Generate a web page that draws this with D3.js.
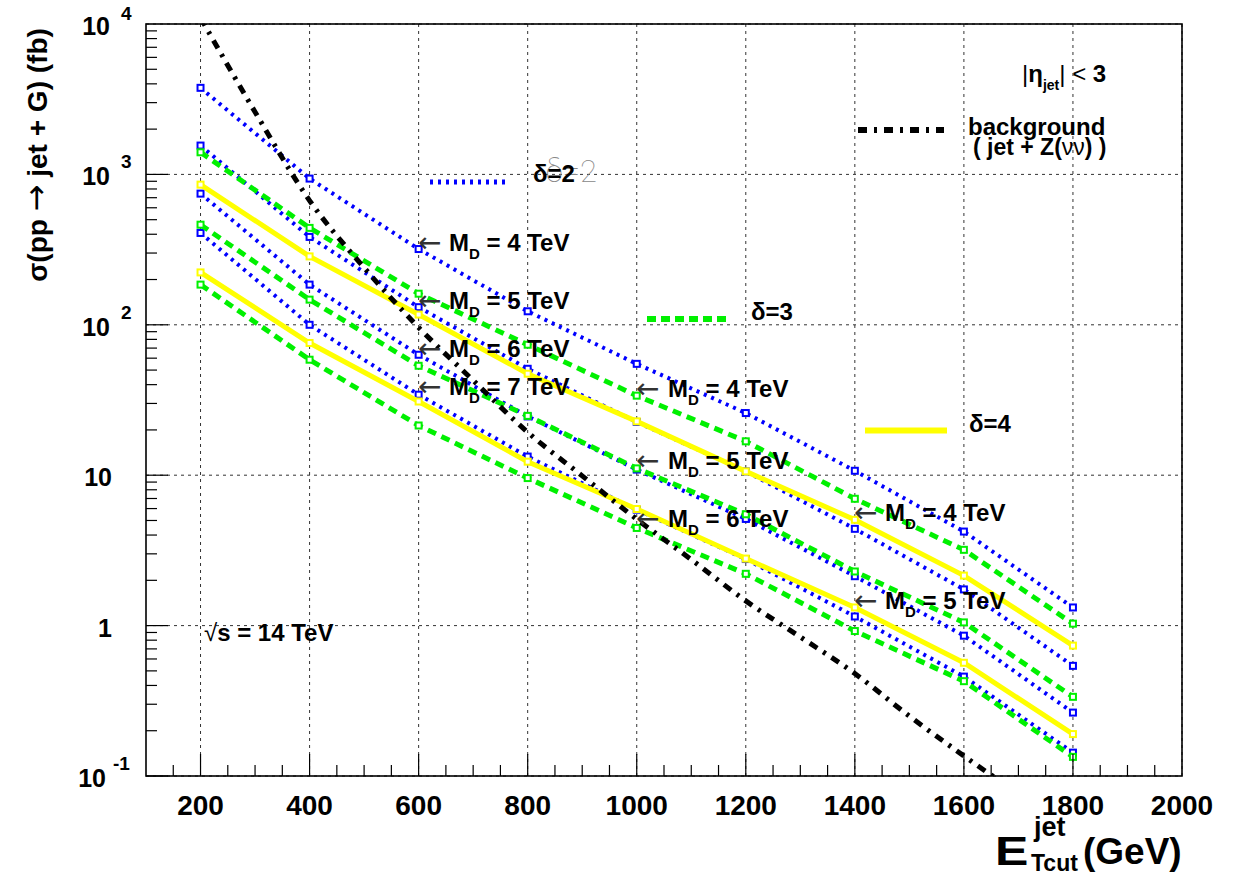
<!DOCTYPE html>
<html><head><meta charset="utf-8">
<script src="https://cdn.jsdelivr.net/npm/d3@7"></script>
<style>
body{margin:0;background:#fff;}
svg{display:block;font-family:"Liberation Sans",Arial,Helvetica,sans-serif;}
</style></head>
<body><svg id="c" width="1235" height="878"></svg>
<script>
// ---------------- data ----------------
const energies = [200, 400, 600, 800, 1000, 1200, 1400, 1600, 1800];
const delta2_MD4 = [3763, 938, 319, 123, 55, 25.9, 10.7, 4.22, 1.32];
const delta2_MD5 = [1555, 384, 131, 51, 22.6, 10.6, 4.4, 1.74, 0.54];
const delta2_MD6 = [745, 185, 63.2, 24.6, 10.9, 5.12, 2.13, 0.857, 0.264];
const delta2_MD7 = [408, 100, 34.3, 13.3, 5.9, 2.77, 1.15, 0.458, 0.143];
const delta3_MD4 = [1403, 441, 161, 73.7, 33.8, 16.8, 6.97, 3.19, 1.03];
const delta3_MD5 = [463, 147, 53.4, 24.8, 11.1, 5.5, 2.29, 1.05, 0.336];
const delta3_MD6 = [185, 58.6, 21.4, 9.57, 4.46, 2.21, 0.92, 0.427, 0.134];
const delta4_MD4 = [855, 285, 117, 47.3, 22.8, 10.6, 5.05, 2.15, 0.736];
const delta4_MD5 = [223, 75.7, 30.9, 12.3, 5.96, 2.79, 1.32, 0.566, 0.19];
const bgEnergies = [200, 300, 400, 500, 600, 700, 800, 900, 1000, 1100, 1200, 1300, 1400, 1500, 1600, 1700];
const background = [11000, 2600, 670, 240, 96, 42.7, 19.3, 9.9, 5.1, 2.75, 1.46, 0.84, 0.48, 0.25, 0.136, 0.076];
const xTickLabels = [200, 400, 600, 800, 1000, 1200, 1400, 1600, 1800, 2000];
const yDecades = [0.1, 1, 10, 100, 1000, 10000];
const yDecadeLabels = [["10", "-1"], ["1", ""], ["10", ""], ["10", "2"], ["10", "3"], ["10", "4"]];

// ---------------- layout ----------------
const svg = d3.select("#c");
const L = 146, R = 1182, T = 24, B = 776;
const x = d3.scaleLinear().domain([100, 2000]).range([L, R]);
const y = d3.scaleLog().domain([0.1, 10000]).range([B, T]);
const ARROWFONT = '"DejaVu Sans",sans-serif';

// grid
const gGrid = svg.append("g");
xTickLabels.forEach(v => {
  gGrid.append("line").attr("x1", x(v)).attr("x2", x(v)).attr("y1", T).attr("y2", B)
    .attr("stroke", "#333").attr("stroke-width", 1).attr("stroke-dasharray", "3,4");
});
yDecades.forEach(v => {
  gGrid.append("line").attr("x1", L).attr("x2", R).attr("y1", y(v)).attr("y2", y(v))
    .attr("stroke", "#333").attr("stroke-width", 1).attr("stroke-dasharray", "3,4");
});

// clip
svg.append("clipPath").attr("id", "clip").append("rect")
  .attr("x", L).attr("y", T).attr("width", R - L).attr("height", B - T);
const gPlot = svg.append("g").attr("clip-path", "url(#clip)");

const BLUE = "#0000ff", GREEN = "#00f000", YELLOW = "#ffff00";
const line = d3.line().x(d => x(d[0])).y(d => y(d[1]));
const series = [
  {vals: delta2_MD4, color: BLUE, dash: "3,5", w: 4},
  {vals: delta2_MD5, color: BLUE, dash: "3,5", w: 4},
  {vals: delta2_MD6, color: BLUE, dash: "3,5", w: 4},
  {vals: delta2_MD7, color: BLUE, dash: "3,5", w: 4},
  {vals: delta3_MD4, color: GREEN, dash: "9,6", w: 5},
  {vals: delta3_MD5, color: GREEN, dash: "9,6", w: 5},
  {vals: delta3_MD6, color: GREEN, dash: "9,6", w: 5},
  {vals: delta4_MD4, color: YELLOW, dash: null, w: 5},
  {vals: delta4_MD5, color: YELLOW, dash: null, w: 5}
];
series.forEach(s => {
  const pts = energies.map((e, i) => [e, s.vals[i]]);
  const p = gPlot.append("path").datum(pts).attr("d", line)
    .attr("fill", "none").attr("stroke", s.color).attr("stroke-width", s.w);
  if (s.dash) p.attr("stroke-dasharray", s.dash);
  gPlot.selectAll(null).data(pts).enter().append("rect")
    .attr("x", d => x(d[0]) - 3).attr("y", d => y(d[1]) - 3)
    .attr("width", 6).attr("height", 6)
    .attr("fill", "#fff").attr("stroke", s.color).attr("stroke-width", 2);
});
// background
gPlot.append("path").datum(bgEnergies.map((e, i) => [e, background[i]]))
  .attr("d", d3.line().x(d => x(d[0])).y(d => y(d[1])).curve(d3.curveMonotoneX))
  .attr("fill", "none").attr("stroke", "#000").attr("stroke-width", 5)
  .attr("stroke-dasharray", "9,7,3,7");

// axes ticks
const gAx = svg.append("g");
for (let v = 150; v < 2000; v += 50) {
  const major = v % 200 === 0;
  gAx.append("line").attr("x1", x(v)).attr("x2", x(v)).attr("y1", B).attr("y2", B - (major ? 22 : 11))
    .attr("stroke", "#000").attr("stroke-width", 1.2);
}
for (let e = -1; e < 4; e++) {
  for (let m = 1; m <= 9; m++) {
    const v = m * Math.pow(10, e);
    gAx.append("line").attr("x1", L).attr("x2", L + (m === 1 ? 22 : 11)).attr("y1", y(v)).attr("y2", y(v))
      .attr("stroke", "#000").attr("stroke-width", 1.2);
  }
}
gAx.append("rect").attr("x", L).attr("y", T).attr("width", R - L).attr("height", B - T)
  .attr("fill", "none").attr("stroke", "#000").attr("stroke-width", 1.6);

// x tick labels
xTickLabels.forEach(v => {
  svg.append("text").attr("x", x(v)).attr("y", 815).attr("text-anchor", "middle")
    .attr("font-size", 28).attr("font-weight", "bold").text(v);
});
// y tick labels
yDecades.forEach((v, i) => {
  const [base, ex] = yDecadeLabels[i];
  const yy = y(v);
  if (ex) {
    const endBase = ex === "-1" ? 106 : 110;
    svg.append("text").attr("x", endBase).attr("y", yy + 11).attr("text-anchor", "end")
      .attr("font-size", 25).attr("font-weight", "bold").text(base);
    svg.append("text").attr("x", ex === "-1" ? 113 : 121).attr("y", Math.max(yy - 6, 20))
      .attr("font-size", 19).attr("font-weight", "bold").text(ex);
  } else {
    svg.append("text").attr("x", 112).attr("y", yy + 11).attr("text-anchor", "end")
      .attr("font-size", 25).attr("font-weight", "bold").text(base);
  }
});

// axis titles
const yt = svg.append("text").attr("transform", "translate(47,155) rotate(-90)")
  .attr("text-anchor", "middle").attr("font-size", 28).attr("font-weight", "bold");
yt.append("tspan").text("σ(pp ");
yt.append("tspan").attr("font-weight", "normal").attr("font-family", ARROWFONT).attr("font-size", 32).text("→");
yt.append("tspan").text(" jet + G)  (fb)");

svg.append("text").attr("transform", "translate(995,865) scale(1.25,1)")
  .attr("font-size", 40).attr("font-weight", "bold").text("E");
svg.append("text").attr("x", 1034).attr("y", 836).attr("font-size", 27).attr("font-weight", "bold").text("jet");
svg.append("text").attr("x", 1031).attr("y", 871).attr("font-size", 23).attr("font-weight", "bold").text("Tcut");
svg.append("text").attr("x", 1083).attr("y", 864).attr("font-size", 37).attr("font-weight", "bold").text("(GeV)");

// ---------------- legend ----------------
function legLine(x1, x2, yy, color, dash, w) {
  const l = svg.append("line").attr("x1", x1).attr("x2", x2).attr("y1", yy).attr("y2", yy)
    .attr("stroke", color).attr("stroke-width", w);
  if (dash) l.attr("stroke-dasharray", dash);
}
legLine(430, 506, 182, BLUE, "3,5", 5);
svg.append("text").attr("x", 597).attr("y", 182).attr("text-anchor", "end").attr("font-size", 31)
  .attr("font-family", "Roboto, 'DejaVu Sans', sans-serif").attr("font-weight", 100).attr("fill", "#888").text("δ=2");
svg.append("text").attr("x", 533).attr("y", 182).attr("font-size", 24).attr("font-weight", "bold").text("δ=2");

legLine(647, 730, 319, GREEN, "9,5", 6);
svg.append("text").attr("x", 751).attr("y", 320).attr("font-size", 24).attr("font-weight", "bold").text("δ=3");

legLine(865, 947, 430.5, YELLOW, null, 6);
svg.append("text").attr("x", 969).attr("y", 432).attr("font-size", 24).attr("font-weight", "bold").text("δ=4");

legLine(858, 944, 130, "#000", "9,7,3,7", 6);
svg.append("text").attr("x", 968).attr("y", 135).attr("font-size", 24).attr("font-weight", "bold").text("background");
const bgt = svg.append("text").attr("x", 973).attr("y", 155).attr("font-size", 23).attr("font-weight", "bold");
bgt.append("tspan").text("( jet + Z(");
bgt.append("tspan").attr("font-weight", "normal").text("νν");
bgt.append("tspan").text(") )");

const eta = svg.append("text").attr("x", 1022).attr("y", 82).attr("font-size", 24).attr("font-weight", "bold");
eta.append("tspan").attr("font-weight", "normal").text("|");
eta.append("tspan").text("η");
eta.append("tspan").attr("font-size", 14).attr("dy", 8).text("jet");
eta.append("tspan").attr("font-weight", "normal").attr("dy", -8).text("| < ");
eta.append("tspan").text("3");

const rs = svg.append("text").attr("x", 204).attr("y", 641).attr("font-size", 24).attr("font-weight", "bold");
rs.append("tspan").attr("font-weight", "normal").text("√");
rs.append("tspan").text("s = 14 TeV");

// M_D labels
function mdLabel(ax, tx, base, md) {
  svg.append("text").attr("x", ax).attr("y", base + 1).attr("font-size", 28)
    .attr("font-family", ARROWFONT).attr("fill", "#333").text("←");
  const t = svg.append("text").attr("x", tx).attr("y", base).attr("font-size", 24).attr("font-weight", "bold");
  t.append("tspan").text("M");
  t.append("tspan").attr("font-size", 15).attr("dy", 8).text("D");
  t.append("tspan").attr("dy", -8).text(" = " + md + " TeV");
}
mdLabel(418, 449, 251, 4);
mdLabel(418, 449, 309, 5);
mdLabel(418, 449, 357, 6);
mdLabel(418, 449, 395, 7);
mdLabel(636, 668, 397, 4);
mdLabel(636, 668, 469, 5);
mdLabel(636, 668, 527, 6);
mdLabel(854, 885, 521, 4);
mdLabel(854, 885, 609, 5);
</script></body></html>
